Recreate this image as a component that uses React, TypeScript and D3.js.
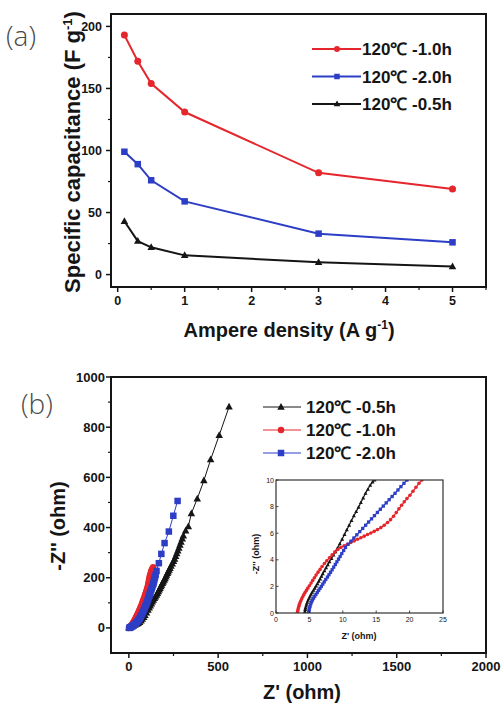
import React from "react";
import * as d3 from "d3";

// ---------- Panel (a) data ----------
const currentDensity = [0.1, 0.3, 0.5, 1, 3, 5];
const cap_1h = [193, 172, 154, 131, 82, 69];
const cap_2h = [99, 89, 76, 59, 33, 26];
const cap_05h = [43, 27, 22, 15.5, 10, 6.5];
const aXTicks = [0, 1, 2, 3, 4, 5];
const aYTicks = [0, 50, 100, 150, 200];

// ---------- Panel (b) data (Nyquist) ----------
const nyq_05h: [number, number][] = [
  [0, 0], [5, 1], [10, 3], [17, 5], [25, 8], [34, 11], [45, 15], [52, 18], [60, 22], [68, 28],
  [75, 35], [83, 42], [90, 50], [99, 60], [107, 71], [114, 80], [120, 88], [126, 96],
  [131, 104], [137, 111], [143, 118], [149, 124], [155, 131], [160, 138], [165, 145],
  [170, 152], [174, 158], [179, 165], [183, 171], [188, 178], [193, 184], [198, 191],
  [202, 197], [207, 204], [211, 211], [216, 218], [220, 224], [225, 231], [230, 238],
  [236, 247], [243, 256], [250, 265], [256, 274], [262, 285], [268, 296], [274, 307],
  [280, 318], [286, 330], [292, 342], [299, 355], [305, 367], [318, 387], [333, 404],
  [350, 456], [383, 515], [420, 587], [458, 671], [506, 768], [561, 881],
];
const nyq_1h: [number, number][] = [
  [0, 0], [2, 1], [4, 2], [6, 3.5], [8, 5], [10, 7], [13, 9], [16, 12], [19, 15], [22, 18],
  [25, 22], [28, 25], [31, 29], [34, 33], [37, 37], [40, 41], [43, 45], [46, 49], [49, 54],
  [52, 58], [55, 63], [58, 68], [61, 73], [64, 78], [67, 83], [70, 88], [73, 94], [76, 100],
  [79, 106], [82, 112], [85, 118], [88, 124], [91, 131], [94, 137], [97, 144], [100, 151],
  [103, 158], [106, 165], [108, 172], [110, 180], [112, 187], [114, 194], [116, 201],
  [118, 208], [121, 215], [124, 222], [126, 228], [131, 236], [136, 242],
];
const nyq_2h: [number, number][] = [
  [3, 0], [5, 1], [8, 2], [11, 3.5], [15, 5], [20, 7], [25, 10], [30, 13], [35, 16], [41, 20],
  [47, 24], [51, 28], [56, 33], [61, 38], [66, 44], [70, 50], [75, 57], [80, 64], [84, 71],
  [88, 78], [92, 85], [96, 91], [99, 98], [103, 104], [106, 111], [109, 117], [112, 124],
  [115, 129], [117, 134], [119, 139], [121, 144], [125, 151], [128, 158], [131, 164],
  [135, 171], [138, 178], [140, 185], [142, 191], [144, 198], [147, 205], [150, 212],
  [155, 227], [168, 258], [182, 295], [200, 338], [224, 384], [249, 447], [273, 506],
];
const bXTicks = [0, 500, 1000, 1500, 2000];
const bYTicks = [0, 200, 400, 600, 800, 1000];

// ---------- Inset data ----------
const ins_05h: [number, number][] = [
  [4.3, 0], [4.33, 0.12], [4.37, 0.25], [4.42, 0.38], [4.5, 0.52], [4.58, 0.65], [4.68, 0.8],
  [4.8, 0.95], [4.95, 1.1], [5.1, 1.25], [5.25, 1.4], [5.42, 1.55], [5.6, 1.7], [5.8, 1.86],
  [6.0, 2.02], [6.2, 2.2], [6.4, 2.38], [6.6, 2.56], [6.8, 2.75], [7.0, 2.95], [7.25, 3.17],
  [7.5, 3.4], [7.75, 3.62], [8.0, 3.85], [8.3, 4.1], [8.6, 4.35], [8.9, 4.6], [9.2, 4.88],
  [9.55, 5.2], [9.9, 5.55], [10.25, 5.9], [10.6, 6.25], [10.95, 6.6], [11.3, 6.95],
  [11.65, 7.3], [12.0, 7.62], [12.35, 7.95], [12.7, 8.3], [13.05, 8.65], [13.4, 9.0],
  [13.75, 9.3], [14.1, 9.6], [14.45, 9.85], [14.75, 10],
];
const ins_1h: [number, number][] = [
  [3.2, 0], [3.24, 0.12], [3.29, 0.25], [3.35, 0.38], [3.42, 0.5], [3.5, 0.63], [3.6, 0.78],
  [3.72, 0.92], [3.85, 1.07], [4.0, 1.22], [4.17, 1.38], [4.35, 1.54], [4.55, 1.7],
  [4.76, 1.87], [5.0, 2.05], [5.25, 2.25], [5.5, 2.45], [5.75, 2.65], [6.0, 2.85],
  [6.3, 3.07], [6.6, 3.28], [6.9, 3.5], [7.25, 3.72], [7.6, 3.93], [8.0, 4.15], [8.4, 4.37],
  [8.8, 4.58], [9.25, 4.78], [9.7, 4.92], [10.2, 5.05], [10.7, 5.17], [11.2, 5.3],
  [11.7, 5.42], [12.2, 5.54], [12.7, 5.66], [13.2, 5.78], [13.7, 5.9], [14.2, 6.02],
  [14.7, 6.14], [15.2, 6.27], [15.7, 6.42], [16.2, 6.6], [16.7, 6.8], [17.15, 7.02],
  [17.6, 7.28], [18.0, 7.55], [18.4, 7.83], [18.8, 8.1], [19.2, 8.36], [19.6, 8.6],
  [20.05, 8.85], [20.5, 9.15], [20.95, 9.45], [21.4, 9.75], [21.85, 10],
];
const ins_2h: [number, number][] = [
  [4.9, 0], [4.92, 0.12], [4.96, 0.25], [5.02, 0.38], [5.1, 0.52], [5.2, 0.68], [5.32, 0.83],
  [5.46, 0.98], [5.62, 1.12], [5.8, 1.26], [5.98, 1.4], [6.18, 1.55], [6.38, 1.7],
  [6.58, 1.85], [6.78, 2.0], [7.0, 2.17], [7.22, 2.34], [7.45, 2.52], [7.7, 2.7],
  [7.93, 2.88], [8.16, 3.06], [8.4, 3.25], [8.64, 3.45], [8.88, 3.65], [9.12, 3.85],
  [9.36, 4.05], [9.6, 4.25], [9.85, 4.47], [10.13, 4.7], [10.4, 4.93], [10.8, 5.17],
  [11.22, 5.4], [11.66, 5.64], [12.1, 5.88], [12.54, 6.12], [12.98, 6.36], [13.42, 6.6],
  [13.86, 6.84], [14.3, 7.08], [14.74, 7.32], [15.18, 7.56], [15.62, 7.8], [16.06, 8.04],
  [16.5, 8.28], [16.94, 8.52], [17.38, 8.76], [17.82, 9.0], [18.26, 9.25], [18.7, 9.5],
  [19.15, 9.75], [19.6, 10],
];
const insXTicks = [0, 5, 10, 15, 20, 25];
const insYTicks = [0, 2, 4, 6, 8, 10];

const RED = "#e5262c";
const BLUE = "#2d3ec6";
const BLACK = "#151515";
const FONT = "Arial, 'Liberation Sans', Helvetica, sans-serif";

type Shape = "circle" | "square" | "triangle";

function Marker({ x, y, shape, color, size }: { x: number; y: number; shape: Shape; color: string; size: number }) {
  if (shape === "circle") return <circle cx={x} cy={y} r={size / 2} fill={color} />;
  if (shape === "square")
    return <rect x={x - size / 2} y={y - size / 2} width={size} height={size} fill={color} />;
  const h = size * 0.9;
  return (
    <path
      d={`M${x},${y - h * 0.6}L${x + size / 2},${y + h * 0.4}L${x - size / 2},${y + h * 0.4}Z`}
      fill={color}
    />
  );
}

export default function App() {
  // ----- Panel (a) -----
  const aL = 111, aR = 486, aT = 14, aB = 287;
  const ax = d3.scaleLinear().domain([-0.1, 5.5]).range([aL, aR]);
  const ay = d3.scaleLinear().domain([-10, 210]).range([aB, aT]);
  const aLine = d3.line<[number, number]>().x((d) => ax(d[0])).y((d) => ay(d[1]));
  const aSeries = [
    { vals: cap_1h, color: RED, shape: "circle" as Shape, size: 7, label: "120℃ -1.0h" },
    { vals: cap_2h, color: BLUE, shape: "square" as Shape, size: 6.5, label: "120℃ -2.0h" },
    { vals: cap_05h, color: BLACK, shape: "triangle" as Shape, size: 7.5, label: "120℃ -0.5h" },
  ];
  const aXMinor = d3.range(0, 5.51, 0.5).filter((v) => Math.abs(v - Math.round(v)) > 0.01);
  const aYMinor = [25, 75, 125, 175];

  // ----- Panel (b) -----
  const bL = 111, bR = 486, bT = 377, bB = 653;
  const bx = d3.scaleLinear().domain([-100, 2000]).range([bL, bR]);
  const by = d3.scaleLinear().domain([-100, 1000]).range([bB, bT]);
  const bLine = d3.line<[number, number]>().x((d) => bx(d[0])).y((d) => by(d[1]));
  const bSeries = [
    { pts: nyq_05h, ins: ins_05h, color: BLACK, shape: "triangle" as Shape, size: 7.5, insSize: 4, label: "120℃ -0.5h" },
    { pts: nyq_1h, ins: ins_1h, color: RED, shape: "circle" as Shape, size: 6.5, insSize: 3.6, label: "120℃ -1.0h" },
    { pts: nyq_2h, ins: ins_2h, color: BLUE, shape: "square" as Shape, size: 6.5, insSize: 3.3, label: "120℃ -2.0h" },
  ];
  const bXMinor = [250, 750, 1250, 1750];
  const bYMinor = [100, 300, 500, 700, 900];

  // ----- Inset -----
  const iL = 276, iR = 443, iT = 480, iB = 613;
  const ix = d3.scaleLinear().domain([0, 25]).range([iL, iR]);
  const iy = d3.scaleLinear().domain([0, 10]).range([iB, iT]);
  const iLine = d3.line<[number, number]>().x((d) => ix(d[0])).y((d) => iy(d[1]));

  const labelFont = "'Open Sans', 'DejaVu Sans', sans-serif";

  return (
    <svg
      width={502}
      height={707}
      style={{ position: "absolute", left: 0, top: 0, background: "#fff" }}
      fontFamily={FONT}
    >
      <rect x={0} y={0} width={502} height={707} fill="#fff" />
      {/* ================= Panel (a) ================= */}
      <text x={6} y={46} fontSize={28} fill="#4a4a4a" fontFamily={labelFont} fontWeight={300}>
        (a)
      </text>
      {aXTicks.map((t) => (
        <g key={"ax" + t}>
          <line x1={ax(t)} x2={ax(t)} y1={aB} y2={aB + 5} stroke={BLACK} strokeWidth={1.5} />
          <text x={ax(t)} y={aB + 18} fontSize={12.5} fontWeight="bold" textAnchor="middle" fill={BLACK}>
            {t}
          </text>
        </g>
      ))}
      {aXMinor.map((t) => (
        <line key={"axm" + t} x1={ax(t)} x2={ax(t)} y1={aB} y2={aB + 3} stroke={BLACK} strokeWidth={1.2} />
      ))}
      {aYTicks.map((t) => (
        <g key={"ay" + t}>
          <line x1={aL - 5} x2={aL} y1={ay(t)} y2={ay(t)} stroke={BLACK} strokeWidth={1.5} />
          <text x={aL - 9} y={ay(t) + 4.5} fontSize={12.5} fontWeight="bold" textAnchor="end" fill={BLACK}>
            {t}
          </text>
        </g>
      ))}
      {aYMinor.map((t) => (
        <line key={"aym" + t} x1={aL - 3} x2={aL} y1={ay(t)} y2={ay(t)} stroke={BLACK} strokeWidth={1.2} />
      ))}
      {aSeries.map((s) => {
        const pts = currentDensity.map((x, i) => [x, s.vals[i]] as [number, number]);
        return (
          <g key={s.label}>
            <path d={aLine(pts) || ""} fill="none" stroke={s.color} strokeWidth={2} />
            {pts.map((p, i) => (
              <Marker key={i} x={ax(p[0])} y={ay(p[1])} shape={s.shape} color={s.color} size={s.size} />
            ))}
          </g>
        );
      })}
      <rect x={aL} y={aT} width={aR - aL} height={aB - aT} fill="none" stroke={BLACK} strokeWidth={2} />
      {aSeries.map((s, i) => {
        const yy = 49 + i * 27.5;
        return (
          <g key={"al" + i}>
            <line x1={312} x2={361} y1={yy} y2={yy} stroke={s.color} strokeWidth={2} />
            <Marker x={337} y={yy} shape={s.shape} color={s.color} size={s.size - 1} />
            <text x={362} y={yy + 6} fontSize={17} fontWeight="bold" fill={BLACK}>
              {s.label}
            </text>
          </g>
        );
      })}
      <text x={289} y={337} fontSize={20} fontWeight="bold" textAnchor="middle" fill={BLACK}>
        Ampere density (A g<tspan dy={-8} fontSize={12}>-1</tspan>
        <tspan dy={8}>)</tspan>
      </text>
      <text
        transform={`translate(80,152) rotate(-90)`}
        fontSize={22}
        fontWeight="bold"
        textAnchor="middle"
        fill={BLACK}
      >
        Specific capacitance (F g<tspan dy={-8} fontSize={13}>-1</tspan>
        <tspan dy={8}>)</tspan>
      </text>

      {/* ================= Panel (b) ================= */}
      <text x={21} y={414} fontSize={28} fill="#4a4a4a" fontFamily={labelFont} fontWeight={300}>
        (b)
      </text>
      {bXTicks.map((t) => (
        <g key={"bx" + t}>
          <line x1={bx(t)} x2={bx(t)} y1={bB} y2={bB + 5} stroke={BLACK} strokeWidth={1.5} />
          <text x={bx(t)} y={bB + 18} fontSize={13} fontWeight="bold" textAnchor="middle" fill={BLACK}>
            {t}
          </text>
        </g>
      ))}
      {bXMinor.map((t) => (
        <line key={"bxm" + t} x1={bx(t)} x2={bx(t)} y1={bB} y2={bB + 3} stroke={BLACK} strokeWidth={1.2} />
      ))}
      {bYTicks.map((t) => (
        <g key={"by" + t}>
          <line x1={bL - 5} x2={bL} y1={by(t)} y2={by(t)} stroke={BLACK} strokeWidth={1.5} />
          <text x={bL - 6} y={by(t) + 4.5} fontSize={13} fontWeight="bold" textAnchor="end" fill={BLACK}>
            {t}
          </text>
        </g>
      ))}
      {bYMinor.map((t) => (
        <line key={"bym" + t} x1={bL - 3} x2={bL} y1={by(t)} y2={by(t)} stroke={BLACK} strokeWidth={1.2} />
      ))}
      {bSeries.map((s) => (
        <g key={"b" + s.label}>
          <path d={bLine(s.pts) || ""} fill="none" stroke={s.color} strokeWidth={1} />
          {s.pts.map((p, i) => (
            <Marker key={i} x={bx(p[0])} y={by(p[1])} shape={s.shape} color={s.color} size={s.size} />
          ))}
        </g>
      ))}
      <rect x={bL} y={bT} width={bR - bL} height={bB - bT} fill="none" stroke={BLACK} strokeWidth={2} />
      {bSeries.map((s, i) => {
        const yy = 407 + i * 23;
        return (
          <g key={"bl" + i}>
            <line x1={263} x2={301} y1={yy} y2={yy} stroke={s.color} strokeWidth={1} />
            <Marker x={281} y={yy} shape={s.shape} color={s.color} size={s.size} />
            <text x={306} y={yy + 6} fontSize={17} fontWeight="bold" fill={BLACK}>
              {s.label}
            </text>
          </g>
        );
      })}
      <text x={302} y={699} fontSize={20} fontWeight="bold" textAnchor="middle" fill={BLACK}>
        Z' (ohm)
      </text>
      <text transform={`translate(65,526) rotate(-90)`} fontSize={20} fontWeight="bold" textAnchor="middle" fill={BLACK}>
        -Z'' (ohm)
      </text>

      {/* ================= Inset ================= */}
      <rect x={iL} y={iT} width={iR - iL} height={iB - iT} fill="#fff" />
      <clipPath id="insclip">
        <rect x={iL} y={iT} width={iR - iL} height={iB - iT} />
      </clipPath>
      <g clipPath="url(#insclip)">
        {bSeries.map((s) => (
          <g key={"i" + s.label}>
            <path d={iLine(s.ins) || ""} fill="none" stroke={s.color} strokeWidth={1.2} />
            {s.ins.map((p, i) => (
              <Marker key={i} x={ix(p[0])} y={iy(p[1])} shape={s.shape} color={s.color} size={s.insSize} />
            ))}
          </g>
        ))}
      </g>
      {insXTicks.map((t) => (
        <g key={"ix" + t}>
          <line x1={ix(t)} x2={ix(t)} y1={iB} y2={iB - 2.5} stroke={BLACK} strokeWidth={0.8} />
          <text x={ix(t)} y={iB + 9} fontSize={7} textAnchor="middle" fill={BLACK}>
            {t}
          </text>
        </g>
      ))}
      {insYTicks.map((t) => (
        <g key={"iy" + t}>
          <line x1={iL} x2={iL + 2.5} y1={iy(t)} y2={iy(t)} stroke={BLACK} strokeWidth={0.8} />
          <text x={iL - 2} y={iy(t) + 2.5} fontSize={7} textAnchor="end" fill={BLACK}>
            {t}
          </text>
        </g>
      ))}
      <rect x={iL} y={iT} width={iR - iL} height={iB - iT} fill="none" stroke="#333" strokeWidth={1.2} />
      <text x={359} y={639} fontSize={9} fontWeight="bold" textAnchor="middle" fill={BLACK}>
        Z' (ohm)
      </text>
      <text transform={`translate(259,554) rotate(-90)`} fontSize={9} fontWeight="bold" textAnchor="middle" fill={BLACK}>
        -Z'' (ohm)
      </text>
    </svg>
  );
}
